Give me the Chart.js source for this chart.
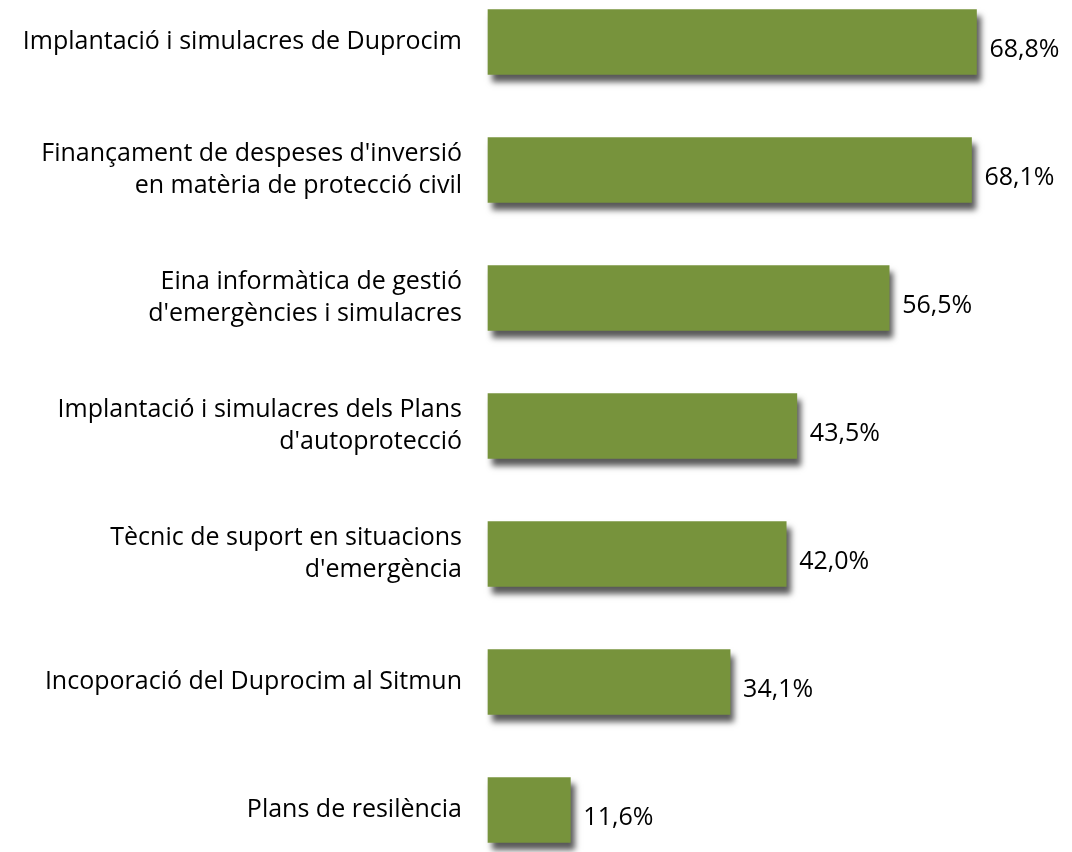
<!DOCTYPE html>
<html>
<head>
<meta charset="utf-8">
<script src="https://cdn.jsdelivr.net/npm/chart.js@4"></script>
<style>
  html, body { margin: 0; padding: 0; background: #fff; }
  #wrap { width: 1072px; height: 852px; position: relative; }
</style>
</head>
<body>
<div id="wrap"><canvas id="chart"></canvas></div>
<script>
const categories = [
  ['Implantació i simulacres de Duprocim'],
  ['Finançament de despeses d\'inversió', 'en matèria de protecció civil'],
  ['Eina informàtica de gestió', 'd\'emergències i simulacres'],
  ['Implantació i simulacres dels Plans', 'd\'autoprotecció'],
  ['Tècnic de suport en situacions', 'd\'emergència'],
  ['Incoporació del Duprocim al Sitmun'],
  ['Plans de resilència']
];
const values = [68.8, 68.1, 56.5, 43.5, 42.0, 34.1, 11.6];

const barColor = '#77933c';

// soft drop shadow under the bars
const shadowPlugin = {
  id: 'barShadow',
  beforeDatasetsDraw(chart) {
    const ctx = chart.ctx;
    ctx.save();
    ctx.shadowColor = 'rgba(0, 0, 0, 0.65)';
    ctx.shadowOffsetX = 4;
    ctx.shadowOffsetY = 7;
    ctx.shadowBlur = 6;
  },
  afterDatasetsDraw(chart) {
    chart.ctx.restore();
  }
};

const valueLabels = {
  id: 'valueLabels',
  afterDraw(chart) {
    const ctx = chart.ctx;
    const meta = chart.getDatasetMeta(0);
    ctx.save();
    ctx.font = '25px "Open Sans"';
    ctx.fillStyle = '#000';
    ctx.textAlign = 'left';
    ctx.textBaseline = 'middle';
    meta.data.forEach((bar, i) => {
      const txt = values[i].toFixed(1).replace('.', ',') + '%';
      ctx.fillText(txt, bar.x + 13, bar.y + 8);
    });
    ctx.restore();
  }
};

new Chart(document.getElementById('chart'), {
  type: 'bar',
  data: {
    labels: categories,
    datasets: [{
      data: values,
      backgroundColor: barColor,
      borderWidth: 0,
      barThickness: 65,
      clip: false
    }]
  },
  options: {
    indexAxis: 'y',
    responsive: true,
    maintainAspectRatio: false,
    animation: false,
    layout: { padding: { top: 41, bottom: 40, right: 16, left: 0 } },
    plugins: { legend: { display: false }, tooltip: { enabled: false } },
    scales: {
      x: { display: false, min: 0, max: 80 },
      y: {
        offset: false,
        border: { display: false },
        grid: { display: false, drawTicks: false },
        ticks: {
          padding: 26,
          color: '#000',
          font: { family: '"Open Sans"', size: 25, lineHeight: '32px' }
        },
        afterFit(scale) { scale.width = 488; }
      }
    }
  },
  plugins: [shadowPlugin, valueLabels]
});
</script>
</body>
</html>
